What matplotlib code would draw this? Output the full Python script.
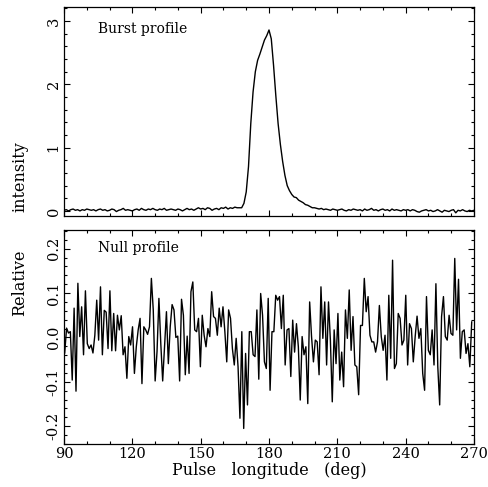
import numpy as np
import matplotlib
matplotlib.use("Agg")
import matplotlib.pyplot as plt
from matplotlib.ticker import MultipleLocator

plt.rcParams['font.family'] = ['DejaVu Serif']

# burst profile, 1 deg steps from 90 to 270
burst_lon = np.arange(90, 271, 1)
burst = [
    0.01, 0.02, 0.00, 0.02, 0.03, 0.01, 0.02, 0.00, 0.02, 0.01,
    0.03, 0.02, 0.01, 0.02, 0.00, 0.02, 0.03, 0.01, 0.02, 0.00,
    0.01, 0.03, 0.02, -0.01, 0.01, 0.02, 0.04, 0.01, 0.02, 0.01,
    0.00, 0.02, 0.03, 0.01, 0.04, 0.02, 0.01, 0.03, 0.02, 0.04,
    0.02, 0.01, 0.03, 0.02, 0.04, 0.01, 0.02, 0.03, 0.02, 0.01,
    0.03, 0.02, 0.00, 0.02, 0.04, 0.02, 0.03, 0.01, 0.03, 0.05,
    0.03, 0.04, 0.02, 0.05, 0.04, 0.01, 0.03, 0.04, 0.02, 0.05,
    0.04, 0.06, 0.03, 0.05, 0.04, 0.06, 0.05, 0.05, 0.05, 0.12,
    0.30, 0.70, 1.38, 1.88, 2.20, 2.38, 2.48, 2.59, 2.70, 2.77,
    2.86, 2.72, 2.30, 1.82, 1.38, 1.05, 0.78, 0.56, 0.40, 0.32,
    0.26, 0.22, 0.21, 0.17, 0.15, 0.13, 0.10, 0.09, 0.07, 0.05,
    0.05, 0.04, 0.03, 0.04, 0.02, 0.03, 0.02, 0.01, 0.03, 0.02,
    0.01, 0.02, 0.03, 0.01, 0.00, 0.02, 0.01, 0.03, 0.02, 0.01,
    0.02, 0.00, 0.03, 0.01, 0.02, 0.04, 0.01, 0.02, 0.00, 0.02,
    0.03, 0.01, 0.02, 0.00, 0.03, 0.01, 0.02, 0.01, 0.00, 0.02,
    0.01, 0.02, 0.00, 0.02, 0.01, -0.01, -0.02, 0.00, 0.01, 0.02,
    0.00, 0.01, -0.01, 0.00, 0.02, 0.00, -0.02, 0.01, 0.00, -0.01,
    0.01, 0.02, -0.03, 0.01, 0.00, 0.02, 0.00, -0.01, 0.01, 0.00,
    0.01,
]

# null profile, read left to right across 90-270 deg
null = [
    -0.035, 0.021, 0.010, 0.013, -0.096, 0.066, -0.121, 0.122, 0.002, 0.069,
    -0.039, 0.105, -0.014, -0.025, -0.017, -0.035, 0.005, 0.084, -0.006, 0.114,
    -0.039, 0.061, 0.057, -0.025, 0.105, -0.030, 0.054, -0.030, 0.050, 0.017,
    0.049, -0.039, -0.021, -0.092, 0.002,
    -0.017, 0.024, -0.081, -0.021, 0.017, 0.043, -0.104, 0.024, 0.017, 0.007,
    0.024, 0.133, 0.062, -0.098, -0.032, 0.088, -0.014, -0.098, -0.021, 0.058,
    -0.059, 0.024, 0.074, 0.062, 0.000, 0.003, -0.098, 0.086, 0.050, -0.084,
    0.003, -0.081, 0.103, 0.125, 0.017,
    0.013, 0.043, -0.066, 0.050, 0.005, -0.021, 0.020, 0.002, 0.103, 0.047,
    0.043, 0.005, 0.066, 0.024, 0.069, 0.013, -0.055, 0.062, 0.043, -0.025,
    -0.062, -0.002, -0.066, -0.182, 0.013, -0.205, -0.036, -0.152, 0.013, 0.013,
    -0.039, -0.043, 0.062, -0.094, 0.099, 0.050, -0.055, -0.070,
    0.088, -0.119, 0.013, 0.013, 0.095, 0.084, 0.092, 0.020, 0.095, -0.062,
    0.017, 0.020, -0.088, 0.039, -0.033, 0.031, -0.021, -0.141, 0.002, -0.039,
    -0.021, -0.149, 0.080, 0.002, -0.055, -0.006, -0.010, -0.084, 0.114, -0.002,
    0.080, -0.062, 0.080, -0.006,
    -0.145, 0.017, -0.059, 0.054, -0.096, -0.033, -0.111, 0.062, -0.002, 0.107,
    -0.029, 0.047, -0.062, -0.066, -0.129, 0.027, 0.027, 0.133, 0.058, 0.092,
    0.005, -0.010, -0.010, -0.033, -0.010, 0.072, 0.002, -0.029, 0.005, -0.096,
    0.095, -0.047, 0.174, -0.070, -0.059,
    0.054, 0.043, -0.017, -0.006, 0.095, -0.062, 0.031, 0.020, -0.055, 0.002,
    0.048, -0.002, 0.020, -0.081, -0.119, 0.092, -0.029, -0.039, 0.017, -0.062,
    0.121, -0.066, -0.152, 0.047, 0.092, 0.002, -0.006, 0.050, 0.009, 0.005,
    0.178, 0.017, 0.131, -0.047, 0.013, 0.017, -0.036, -0.014, -0.066, 0.035,
]
null_lon = np.linspace(90.3, 269.0, len(null))

x_ticks = [90, 120, 150, 180, 210, 240, 270]

fig = plt.figure(figsize=(4.89, 4.87), dpi=100)
ax1 = fig.add_axes([0.1309, 0.5565, 0.8384, 0.4300])
ax2 = fig.add_axes([0.1309, 0.0883, 0.8384, 0.4394])

ax1.plot(burst_lon, burst, color='black', lw=1.0)
ax2.plot(null_lon, null, color='black', lw=1.0)

for ax in (ax1, ax2):
    ax.set_xlim(90, 270)
    ax.xaxis.set_major_locator(MultipleLocator(30))
    ax.xaxis.set_minor_locator(MultipleLocator(10))
    ax.tick_params(which='both', direction='in', top=True, right=True,
                   labelsize=10.5, pad=2.5)
    ax.tick_params(which='major', length=4.5, width=0.8)
    ax.tick_params(which='minor', length=2.2, width=0.8)
    for s in ax.spines.values():
        s.set_linewidth(0.9)

ax1.set_ylim(-0.08, 3.23)
ax1.yaxis.set_major_locator(MultipleLocator(1))
ax1.yaxis.set_minor_locator(MultipleLocator(0.2))
ax1.tick_params(labelbottom=False)

ax2.set_ylim(-0.24, 0.242)
ax2.yaxis.set_major_locator(MultipleLocator(0.1))
ax2.yaxis.set_minor_locator(MultipleLocator(0.02))
ax2.set_xticks(x_ticks)
ax2.set_xticklabels([str(v) for v in x_ticks])
ax2.set_yticks([-0.2, -0.1, 0.0, 0.1, 0.2])
ax2.set_yticklabels(['-0.2', '-0.1', '0.0', '0.1', '0.2'])

for ax in (ax1, ax2):
    plt.setp(ax.get_yticklabels(), rotation=90, va='center')

ax1.text(0.083, 0.895, 'Burst profile', transform=ax1.transAxes,
         fontsize=10, va='center', ha='left')
ax2.text(0.083, 0.914, 'Null profile', transform=ax2.transAxes,
         fontsize=10, va='center', ha='left')

ax2.set_xlabel('Pulse   longitude   (deg)', fontsize=11.5, labelpad=0.5)
fig.text(20 / 489, 1 - 177 / 487, 'intensity', rotation=90, fontsize=11.5,
         ha='center', va='center')
fig.text(20 / 489, 1 - 283 / 487, 'Relative', rotation=90, fontsize=11.5,
         ha='center', va='center')

fig.savefig('out.png', dpi=100)
